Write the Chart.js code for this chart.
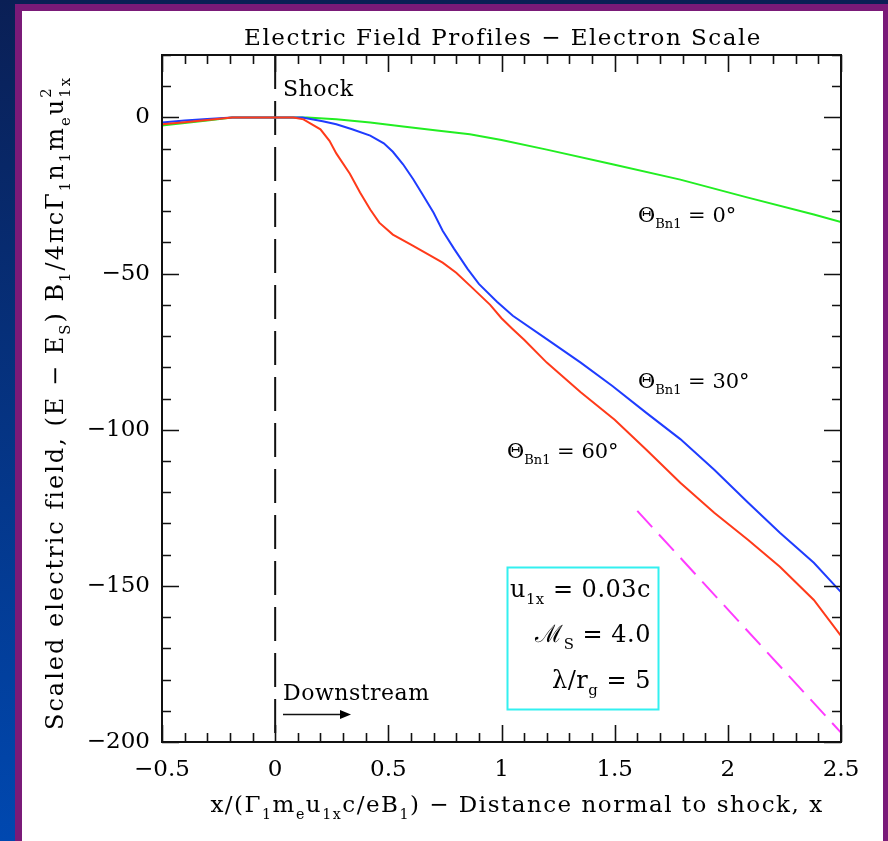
<!DOCTYPE html>
<html><head><meta charset="utf-8">
<script src="https://cdn.jsdelivr.net/npm/chart.js@4.4.1/dist/chart.umd.min.js"></script>
<style>html,body{margin:0;padding:0;background:#06245e;}canvas{display:block;}</style>
</head><body>
<canvas id="c" width="888" height="841"></canvas>
<script>
// ---- data ----
const xTickValues = [-0.5, 0, 0.5, 1, 1.5, 2, 2.5];
const xTickLabels = ['\u22120.5', '0', '0.5', '1', '1.5', '2', '2.5'];
const yTickValues = [0, -50, -100, -150, -200];
const yTickLabels = ['0', '\u221250', '\u2212100', '\u2212150', '\u2212200'];

const xRed = [-0.5,-0.4,-0.3,-0.19,0,0.08,0.125,0.2,0.24,0.27,0.33,0.375,0.42,0.46,0.52,0.6,0.68,0.74,0.8,0.87,0.95,1.0,1.05,1.1,1.2,1.35,1.5,1.64,1.79,1.94,2.09,2.23,2.38,2.5];
const yRed = [-2.2,-1.5,-0.8,0,0,0,-0.6,-3.8,-7.5,-11.5,-18,-24,-29.5,-33.7,-37.5,-40.7,-44,-46.5,-49.7,-54.5,-60,-64.3,-67.8,-71.2,-78.5,-88,-96.8,-106.4,-117,-126.6,-135.3,-143.9,-154.5,-166];

const xBlue = [-0.5,-0.4,-0.3,-0.19,0,0.12,0.21,0.27,0.34,0.42,0.48,0.52,0.565,0.61,0.65,0.7,0.74,0.79,0.85,0.9,0.98,1.05,1.2,1.35,1.49,1.64,1.79,1.94,2.09,2.23,2.38,2.5];
const yBlue = [-1.6,-1.0,-0.5,0,0,0,-1.2,-2.2,-3.8,-5.8,-8.3,-11.0,-15.0,-19.8,-24.5,-30.5,-36.3,-42,-48.5,-53.3,-59,-63.5,-71,-78.5,-86,-94.6,-103,-112.8,-123.4,-133,-142.6,-152];

const xGreen = [-0.5,-0.4,-0.3,-0.19,0,0.14,0.27,0.42,0.565,0.715,0.86,1.0,1.2,1.49,1.79,2.085,2.38,2.5];
const yGreen = [-2.6,-1.8,-1.0,0,0,0,-0.6,-1.6,-2.9,-4.2,-5.4,-7.2,-10.3,-15,-19.9,-25.6,-31.1,-33.5];

const xRef = [1.6, 2.5];
const yRef = [-126, -197];

const xShock = [0, 0];
const yShock = [20, -200];

const seriesLabels = ['\u0398Bn1 = 60\u00b0', '\u0398Bn1 = 30\u00b0', '\u0398Bn1 = 0\u00b0'];

const pts = (xs, ys) => xs.map((x, i) => ({x: x, y: ys[i]}));
const FONT = '"DejaVu Serif", "Liberation Serif", serif';

function drawRich(ctx, x, y, parts, size, align) {
  const measure = () => {
    let w = 0, prevStart = 0, prevW = 0;
    parts.forEach(p => {
      const fs = p.s ? size * 0.62 : size;
      ctx.font = fs + 'px ' + FONT;
      const pw = ctx.measureText(p.t).width;
      if (p.back) { w = Math.max(prevStart + pw, prevStart + prevW); }
      else { prevStart = w; prevW = pw; w += pw; }
    });
    return w;
  };
  const total = measure();
  let cx = align === 'center' ? x - total / 2 : (align === 'right' ? x - total : x);
  let prevStart = cx, prevEnd = cx;
  parts.forEach(p => {
    const fs = p.s ? size * 0.62 : size;
    ctx.font = fs + 'px ' + FONT;
    const pw = ctx.measureText(p.t).width;
    let dy = 0;
    if (p.s === 'sub') dy = size * 0.3;
    if (p.s === 'sup') dy = -size * 0.5;
    if (p.back) {
      ctx.fillText(p.t, prevStart, y + dy);
      cx = Math.max(prevEnd, prevStart + pw);
    } else {
      ctx.fillText(p.t, cx, y + dy);
      prevStart = cx; cx += pw; prevEnd = cx;
    }
  });
}

const decor = {
  id: 'decor',
  beforeDraw(chart) {
    const ctx = chart.ctx;
    const g = ctx.createLinearGradient(0, 0, 0, 841);
    g.addColorStop(0, '#0a1f55');
    g.addColorStop(1, '#0048b0');
    ctx.save();
    ctx.fillStyle = g; ctx.fillRect(0, 0, 888, 841);
    ctx.fillStyle = '#7a1a78'; ctx.fillRect(15, 4, 873, 837);
    ctx.fillStyle = '#ffffff'; ctx.fillRect(22, 11, 861, 830);
    ctx.restore();
  },
  afterDraw(chart) {
    const ctx = chart.ctx;
    const xs = chart.scales.x, ys = chart.scales.y;
    const L = chart.chartArea.left, R = chart.chartArea.right, T = chart.chartArea.top, B = chart.chartArea.bottom;
    ctx.save();
    ctx.strokeStyle = '#111'; ctx.lineWidth = 2;
    ctx.strokeRect(L, T, R - L, B - T);
    ctx.lineWidth = 1.6;
    ctx.beginPath();
    for (let i = -5; i <= 25; i++) {
      const v = i / 10; const px = Math.round(xs.getPixelForValue(v)) + 0.5;
      const len = (i % 5 === 0) ? 17 : 9;
      ctx.moveTo(px, B); ctx.lineTo(px, B - len);
      ctx.moveTo(px, T); ctx.lineTo(px, T + len);
    }
    for (let v = -200; v <= 20; v += 10) {
      const py = Math.round(ys.getPixelForValue(v)) + 0.5;
      const len = (v % 50 === 0) ? 17 : 9;
      ctx.moveTo(L, py); ctx.lineTo(L + len, py);
      ctx.moveTo(R, py); ctx.lineTo(R - len, py);
    }
    ctx.stroke();

    ctx.fillStyle = '#000';
    ctx.textBaseline = 'alphabetic';
    // title
    ctx.letterSpacing = '1.5px';
    ctx.font = '23px ' + FONT; ctx.textAlign = 'center';
    ctx.fillText('Electric Field Profiles \u2212 Electron Scale', 503, 45);
    ctx.textAlign = 'left';
    // x axis title
    drawRich(ctx, 517, 812, [
      {t: 'x/(\u0393'}, {t: '1', s: 'sub'}, {t: 'm'}, {t: 'e', s: 'sub'}, {t: 'u'}, {t: '1x', s: 'sub'},
      {t: 'c/eB'}, {t: '1', s: 'sub'}, {t: ') \u2212 Distance normal to shock, x'}
    ], 23, 'center');
    // y axis title
    ctx.letterSpacing = '2px';
    ctx.save();
    ctx.translate(63, 403); ctx.rotate(-Math.PI / 2);
    drawRich(ctx, 0, 0, [
      {t: 'Scaled electric field, (E \u2212 E'}, {t: 'S', s: 'sub'}, {t: ') B'}, {t: '1', s: 'sub'},
      {t: '/4\u03c0c\u0393'}, {t: '1', s: 'sub'}, {t: 'n'}, {t: '1', s: 'sub'}, {t: 'm'}, {t: 'e', s: 'sub'},
      {t: 'u'}, {t: '1x', s: 'sub'}, {t: '2', s: 'sup', back: true}
    ], 24, 'center');
    ctx.restore();
    ctx.letterSpacing = '0.5px';

    // annotations
    const sz = 21;
    ctx.font = '22px ' + FONT;
    ctx.fillText('Shock', 283, 96);
    ctx.fillText('Downstream', 283, 700);
    ctx.beginPath(); ctx.lineWidth = 1.5;
    ctx.moveTo(283, 714.5); ctx.lineTo(342, 714.5); ctx.stroke();
    ctx.beginPath(); ctx.moveTo(351, 714.5); ctx.lineTo(340, 710); ctx.lineTo(340, 719); ctx.closePath(); ctx.fill();

    ctx.letterSpacing = '0px';
    const thetaLabel = (x, y, deg) => drawRich(ctx, x, y, [
      {t: '\u0398'}, {t: 'Bn1', s: 'sub'}, {t: ' = ' + deg + '\u00b0'}
    ], sz, 'left');
    thetaLabel(638, 222, '0');
    thetaLabel(638, 388, '30');
    thetaLabel(507, 458, '60');

    // parameter box
    ctx.strokeStyle = '#33f0f0'; ctx.lineWidth = 2;
    ctx.strokeRect(507.5, 567.5, 151, 142);
    ctx.fillStyle = '#000';
    ctx.letterSpacing = '0.5px';
    drawRich(ctx, 651, 597, [{t: 'u'}, {t: '1x', s: 'sub'}, {t: ' = 0.03c'}], 24, 'right');
    drawRich(ctx, 651, 642, [{t: '\u2133'}, {t: 'S', s: 'sub'}, {t: ' = 4.0'}], 24, 'right');
    drawRich(ctx, 651, 688, [{t: '\u03bb/r'}, {t: 'g', s: 'sub'}, {t: ' = 5'}], 24, 'right');
    ctx.restore();
  }
};

const common = {showLine: true, pointRadius: 0, borderWidth: 2, fill: false, tension: 0};

new Chart(document.getElementById('c'), {
  type: 'scatter',
  data: {
    datasets: [
      Object.assign({label: seriesLabels[0], data: pts(xRed, yRed), borderColor: '#ff3a1a'}, common),
      Object.assign({label: seriesLabels[1], data: pts(xBlue, yBlue), borderColor: '#1f3cff'}, common),
      Object.assign({label: seriesLabels[2], data: pts(xGreen, yGreen), borderColor: '#22ee22'}, common),
      Object.assign({label: 'reference slope', data: pts(xRef, yRef), borderColor: '#ff3cff', borderDash: [22, 10]}, common),
      Object.assign({label: 'Shock', data: pts(xShock, yShock), borderColor: '#111', borderDash: [34, 12]}, common)
    ]
  },
  options: {
    responsive: false,
    animation: false,
    layout: {padding: {left: 0, top: 55, right: 47, bottom: 0}},
    plugins: {legend: {display: false}, tooltip: {enabled: false}, title: {display: false}},
    scales: {
      x: {
        type: 'linear', min: -0.5, max: 2.5,
        afterFit: s => { s.height = 99; },
        afterBuildTicks: s => { s.ticks = xTickValues.map(v => ({value: v})); },
        grid: {display: false, drawTicks: false}, border: {display: false},
        ticks: {padding: 14, color: '#000', font: {family: FONT, size: 23},
          callback: v => { const i = xTickValues.indexOf(v); return i >= 0 ? xTickLabels[i] : ''; }, maxRotation: 0}
      },
      y: {
        type: 'linear', min: -200, max: 20,
        afterFit: s => { s.width = 162; },
        afterBuildTicks: s => { s.ticks = yTickValues.map(v => ({value: v})); },
        grid: {display: false, drawTicks: false}, border: {display: false},
        ticks: {padding: 12, color: '#000', font: {family: FONT, size: 23},
          callback: v => { const i = yTickValues.indexOf(v); return i >= 0 ? yTickLabels[i] : ''; }}
      }
    }
  },
  plugins: [decor]
});
</script>
</body></html>
